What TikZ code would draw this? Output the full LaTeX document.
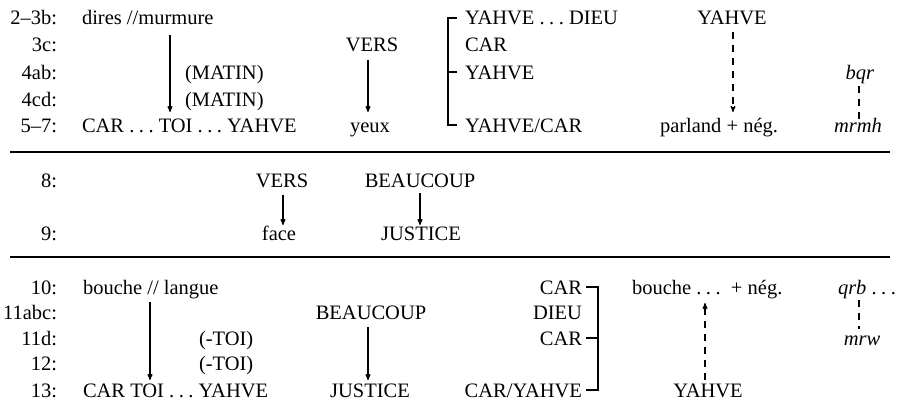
\documentclass[tikz,border=0pt]{standalone}
\usepackage{fontspec}
\setmainfont{Liberation Serif}
\usetikzlibrary{arrows}
\newcommand{\troispts}{.\kern4.5pt.\kern4.5pt.}

\begin{document}
\begin{tikzpicture}[x=1pt,y=-1pt,>=stealth',line width=1.1pt,
                    font=\fontsize{20.5}{24}\selectfont]
  \tikzstyle{every node}=[inner sep=0pt,outer sep=0pt]
  \tikzstyle{verse}=[anchor=base east]
  \tikzstyle{txt}=[anchor=base west]
  \tikzstyle{txtr}=[anchor=base east]
  \tikzstyle{mid}=[anchor=base]
  \tikzstyle{lien}=[->]
  \tikzstyle{pointille}=[dash pattern=on 7pt off 6pt]

  \useasboundingbox (0,0) rectangle (899,404);

  % versets 2-7
  \node[verse] (v1) at (57,25)  {2--3b:};
  \node[verse] (v2) at (57,52)  {3c:};
  \node[verse] (v3) at (57,79)  {4ab:};
  \node[verse] (v4) at (57,106) {4cd:};
  \node[verse] (v5) at (57,132) {5--7:};

  \node[txt] (dires)  at (82,25)  {dires //murmure};
  \node[txt] (matinA) at (185,79) {(MATIN)};
  \node[txt] (matinB) at (185,106){(MATIN)};
  \node[txt] (cartoi) at (82,132) {CAR \troispts\ TOI \troispts\ YAHVE};
  \node[mid] (versA)  at (372,52) {VERS};
  \node[mid] (yeux)   at (370,132){yeux};
  \node[txt] (yd)     at (465,25) {YAHVE \troispts\ DIEU};
  \node[txt] (carA)   at (465,52) {CAR};
  \node[txt] (ya)     at (465,79) {YAHVE};
  \node[txt] (yc)     at (465,132){YAHVE/CAR};
  \node[mid] (yahveA) at (732,25) {YAHVE};
  \node[txt] (parland) at (660,132){parland + nég.};
  \node[mid] (bqr)    at (860,79) {\textit{bqr}};
  \node[mid] (mrmh)   at (858,132){\textit{mrmh}};

  \coordinate (a1) at (170,35);  \coordinate (b1) at (170,112);
  \coordinate (a2) at (368,60);  \coordinate (b2) at (368,112);
  \coordinate (a3) at (733,32);  \coordinate (b3) at (733,112);
  \coordinate (a4) at (859,86);  \coordinate (b4) at (859,121);

  \path (a1) edge[lien] (b1)
        (a2) edge[lien] (b2)
        (a3) edge[lien,pointille] (b3)
        (a4) edge[pointille] (b4);

  \draw ([shift={(-8,-7)}]yd.base west) -- ++(-9,0) |- ([shift={(-8,-7)}]yc.base west);
  \draw ([shift={(-8,-7)}]ya.base west) -- ++(-9,0);

  % separation
  \coordinate (l1a) at (10,152);  \coordinate (l1b) at (890,152);
  \coordinate (l2a) at (10,257);  \coordinate (l2b) at (890,257);
  \draw (l1a) -- (l1b);
  \draw (l2a) -- (l2b);

  % versets 8-9
  \node[verse] (v6) at (57,187) {8:};
  \node[verse] (v7) at (57,240) {9:};
  \node[mid] (versB) at (282,187) {VERS};
  \node[mid] (face)  at (279,240) {face};
  \node[mid] (beauA) at (420,187) {BEAUCOUP};
  \node[mid] (justA) at (421,240) {JUSTICE};

  \coordinate (a5) at (283,195);  \coordinate (b5) at (283,225);
  \coordinate (a6) at (420,193);  \coordinate (b6) at (420,225);
  \path (a5) edge[lien] (b5)
        (a6) edge[lien] (b6);

  % versets 10-13
  \node[verse] (v8)  at (57,294) {10:};
  \node[verse] (v9)  at (57,319) {11abc:};
  \node[verse] (v10) at (57,345) {11d:};
  \node[verse] (v11) at (57,370) {12:};
  \node[verse] (v12) at (57,397) {13:};

  \node[txt] (bouche) at (83,294)  {bouche // langue};
  \node[txt] (toiA)   at (199,345) {(-TOI)};
  \node[txt] (toiB)   at (199,370) {(-TOI)};
  \node[txt] (cartoiB) at (83,397) {CAR TOI \troispts\ YAHVE};
  \node[mid] (beauB)  at (371,319) {BEAUCOUP};
  \node[mid] (justB)  at (370,397) {JUSTICE};
  \node[txtr] (carB)  at (582,294) {CAR};
  \node[txtr] (dieu)  at (582,319) {DIEU};
  \node[txtr] (carC)  at (582,345) {CAR};
  \node[txtr] (cy)    at (582,397) {CAR/YAHVE};
  \node[txt] (boucheB) at (632,294) {bouche \troispts\ \ + nég.};
  \node[mid] (yahveB) at (708,397) {YAHVE};
  \node[txt] (qrb)    at (838,294) {\textit{qrb} \troispts};
  \node[mid] (mrw)    at (862,345) {\textit{mrw}};

  \coordinate (a7) at (150,302);  \coordinate (b7) at (150,380);
  \coordinate (a8) at (368,327);  \coordinate (b8) at (368,380);
  \coordinate (a9) at (705,380);  \coordinate (b9) at (705,303);
  \coordinate (a10) at (859,300); \coordinate (b10) at (859,329);
  \path (a7) edge[lien] (b7)
        (a8) edge[lien] (b8)
        (a9) edge[lien,pointille] (b9)
        (a10) edge[pointille] (b10);

  \draw ([shift={(4,-7)}]carB.base east) -- ++(12,0) |- ([shift={(4,-7)}]cy.base east);
  \draw ([shift={(4,-7)}]carC.base east) -- ++(12,0);
\end{tikzpicture}
\end{document}
